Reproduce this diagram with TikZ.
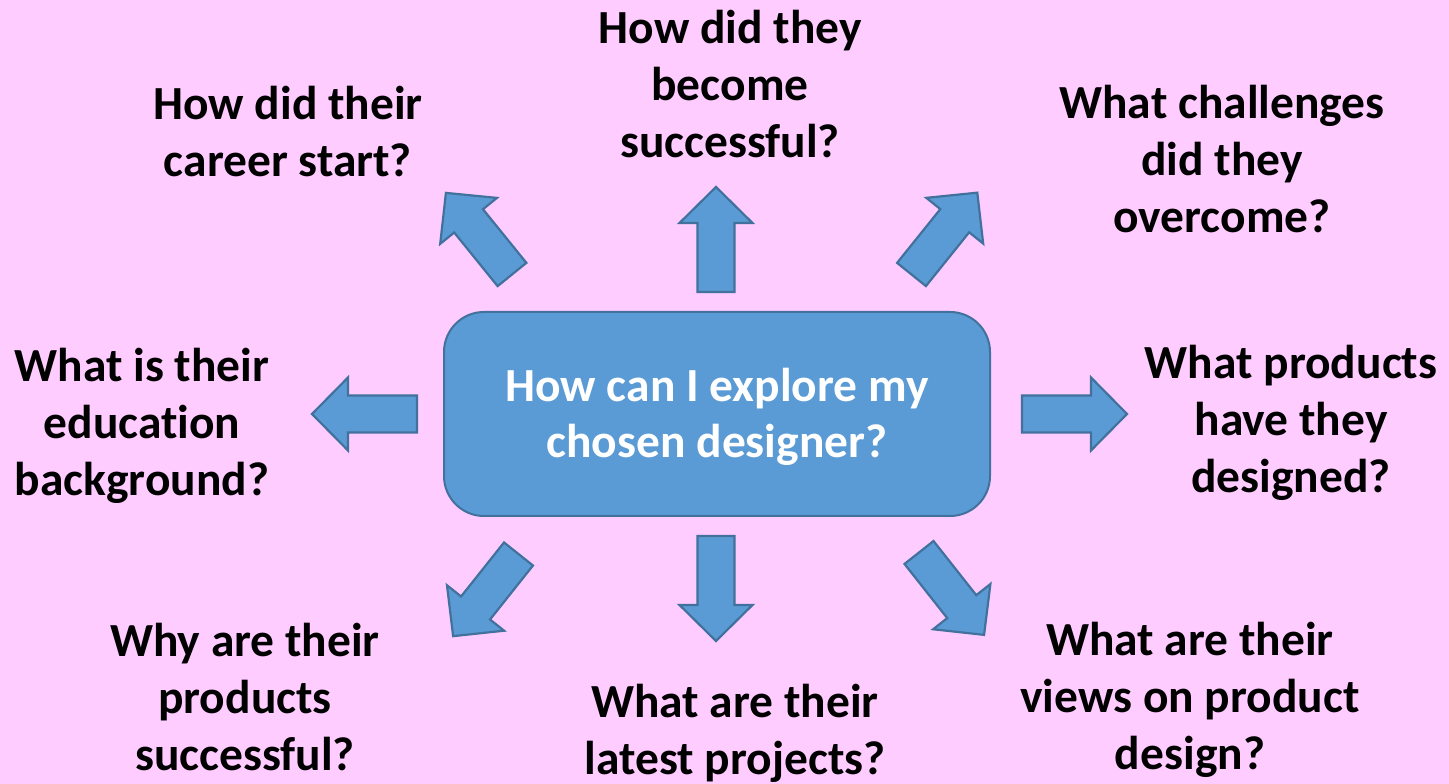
\documentclass[tikz,border=0pt]{standalone}
\usepackage{fontspec}
\setmainfont{Carlito}[Ligatures={NoCommon}]
\definecolor{bgpink}{HTML}{FFCCFF}
\definecolor{boxblue}{HTML}{5B9BD5}
\definecolor{boxedge}{HTML}{41719C}
\tikzset{
  blk/.style={fill=boxblue, draw=boxedge, line width=2.2pt, line join=miter},
  qtext/.style={align=center, font=\bfseries\fontsize{47.5}{57}\selectfont, text=black, inner sep=0pt},
  hub/.style={rounded corners=40pt, fill=boxblue, draw=boxedge, line width=2pt,
    minimum width=546pt, minimum height=204pt, align=center, text=white,
    font=\bfseries\fontsize{47.5}{56}\selectfont, inner sep=0pt},
}
\newcommand{\myblockarrow}[3]{%
  \begin{scope}[shift={(#1,#2)}, rotate=#3]
    \draw[blk] (0,-18.5) -- (69,-18.5) -- (69,-36.5) -- (105,0) -- (69,36.5) -- (69,18.5) -- (0,18.5) -- cycle;
  \end{scope}}
\begin{document}
\begin{tikzpicture}[x=1pt,y=1pt]
  \fill[bgpink] (0,0) rectangle (1449,784);
  \useasboundingbox (0,0) rectangle (1449,784);
  % hub
  \draw[hub] (444,268) rectangle (990,472);
  \node[hub, draw=none, fill=none] (hub) at (717,366) {\strut How can I explore my\\ chosen designer?\strut};
  % arrows
  \myblockarrow{512}{509.5}{129.0}
  \myblockarrow{716}{492}{90}
  \myblockarrow{911.5}{509.5}{51.2}
  \myblockarrow{417}{370}{180}
  \myblockarrow{1022}{370}{0}
  \myblockarrow{518.5}{230}{231.5}
  \myblockarrow{716}{248}{270}
  \myblockarrow{919}{231.5}{-51.7}
  % questions
  \node[qtext] (q1) at (288,647) {\strut How did their\\ career start?\strut};
  \node[qtext] (q2) at (730,695) {\strut How did they\\ become\\ successful?\strut};
  \node[qtext] (q3) at (1222,620) {\strut What challenges\\ did they\\ overcome?\strut};
  \node[qtext] (q4) at (142,357) {\strut What is their\\ education\\ background?\strut};
  \node[qtext] (q5) at (1291,360) {\strut What products\\ have they\\ designed?\strut};
  \node[qtext] (q6) at (245,82) {\strut Why are their\\ products\\ successful?\strut};
  \node[qtext] (q7) at (735,53.5) {\strut What are their\\ latest projects?};
  \node[qtext] (q8) at (1190,83) {\strut What are their\\ views on product\\ design?\strut};
\end{tikzpicture}
\end{document}
